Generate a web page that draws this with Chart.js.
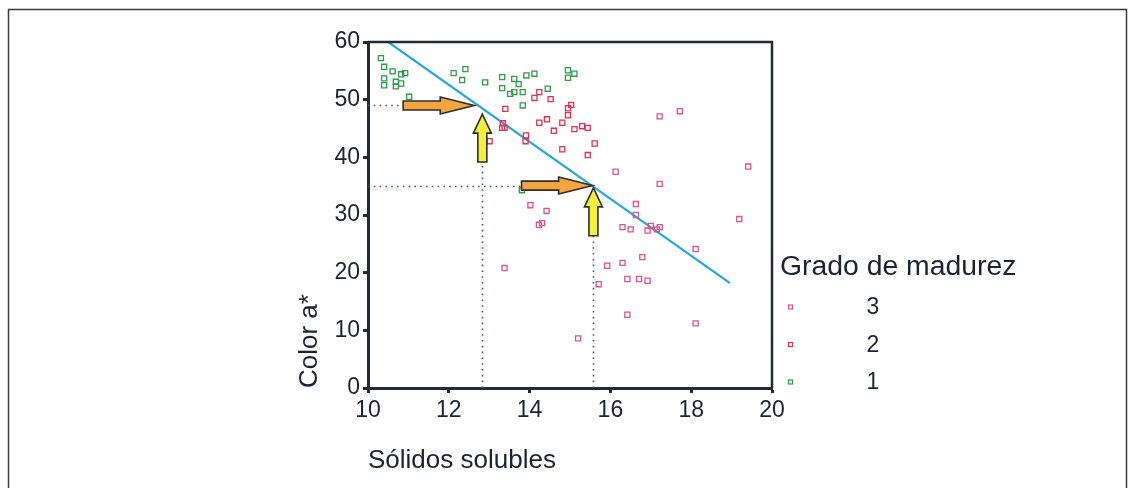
<!DOCTYPE html>
<html>
<head>
<meta charset="utf-8">
<script src="https://cdn.jsdelivr.net/npm/chart.js@4/dist/chart.umd.min.js"></script>
<style>
  html, body { margin: 0; padding: 0; background: #fff; }
  #wrap { width: 1134px; height: 488px; position: relative; }
</style>
</head>
<body>
<div id="wrap"><canvas id="chart" width="1134" height="488"></canvas></div>
<script>
// escalas
const xTicks = [10, 12, 14, 16, 18, 20];
const yTicks = [0, 10, 20, 30, 40, 50, 60];

// Grado de madurez 1 (verde)
const grado1X = [10.32, 10.40, 10.61, 10.40, 10.40, 10.69, 10.69, 10.82, 10.82, 10.92, 11.02, 12.12, 12.41, 12.33, 12.90,
  13.32, 13.32, 13.62, 13.73, 13.92, 14.12, 13.52, 13.62, 13.83, 14.45, 13.83, 14.95, 14.95, 15.11, 13.81];
const grado1Y = [57.2, 55.7, 54.9, 53.7, 52.5, 53.1, 52.3, 52.8, 54.4, 54.6, 50.5, 54.6, 55.3, 53.4, 53.0,
  53.9, 52.0, 53.6, 52.7, 54.2, 54.5, 51.0, 51.3, 51.3, 51.9, 49.0, 55.1, 53.8, 54.5, 34.3];

// Grado de madurez 2
const grado2X = [14.24, 14.12, 14.52, 13.40, 14.95, 15.03, 14.95, 14.43, 14.24, 14.81, 14.60, 15.11, 15.30, 15.44,
  13.34, 13.32, 13.38, 13.91, 13.90, 13.01, 15.61, 14.81, 15.44];
const grado2Y = [51.3, 50.3, 50.1, 48.4, 48.5, 49.1, 47.3, 46.6, 46.0, 46.0, 44.6, 44.9, 45.4, 45.1,
  45.9, 45.1, 45.1, 43.8, 42.8, 42.8, 42.4, 41.4, 40.4];

// Grado de madurez 3
const grado3X = [17.22, 17.72, 16.13, 17.22, 19.41, 14.02, 14.42, 14.23, 14.31, 13.38, 16.63, 16.63, 16.30, 16.50,
  16.92, 17.00, 17.15, 17.22, 19.19, 18.11, 15.92, 16.30, 16.79, 15.71, 16.42, 16.71, 16.92, 16.42, 18.11, 15.20];
const grado3Y = [47.1, 48.0, 37.5, 35.4, 38.4, 31.7, 30.7, 28.3, 28.6, 20.8, 31.9, 30.0, 27.9, 27.5,
  27.3, 28.1, 27.5, 27.9, 29.3, 24.1, 21.2, 21.7, 22.7, 18.0, 18.9, 18.9, 18.6, 12.7, 11.2, 8.6];

// recta de ajuste (extremos leidos)
const rectaX = [10.5, 18.96];
const rectaY = [60, 18.2];

// lecturas: punteadas y flechas (en unidades de los datos)
const guiaX = [12.83, 15.58];
const guiaY = [49, 35.1];
const flechasH = [[10.87, 12.63, 49], [13.80, 15.56, 35.1]];   // [x desde, x hasta, y]
const flechasV = [[12.83, 39.2, 47.5], [15.58, 26.4, 34.7]];   // [x, y desde, y hasta]

const colorTexto = '#1a2234';
const colorEje = '#222a36';

const pts = (xs, ys) => xs.map((x, i) => ({ x: x, y: ys[i] }));

function flecha(ctx, x0, y0, x1, y1, shaftW, headW, headL, fill) {
  const dx = x1 - x0, dy = y1 - y0;
  const len = Math.hypot(dx, dy);
  const ux = dx / len, uy = dy / len;
  const nx = -uy, ny = ux;
  const bx = x1 - ux * headL, by = y1 - uy * headL;
  ctx.beginPath();
  ctx.moveTo(x0 + nx * shaftW / 2, y0 + ny * shaftW / 2);
  ctx.lineTo(bx + nx * shaftW / 2, by + ny * shaftW / 2);
  ctx.lineTo(bx + nx * headW / 2, by + ny * headW / 2);
  ctx.lineTo(x1, y1);
  ctx.lineTo(bx - nx * headW / 2, by - ny * headW / 2);
  ctx.lineTo(bx - nx * shaftW / 2, by - ny * shaftW / 2);
  ctx.lineTo(x0 - nx * shaftW / 2, y0 - ny * shaftW / 2);
  ctx.closePath();
  ctx.fillStyle = fill;
  ctx.fill();
  ctx.lineWidth = 1.6;
  ctx.strokeStyle = '#2e2e2e';
  ctx.stroke();
}

const extras = {
  id: 'extras',
  beforeDraw(chart) {
    const ctx = chart.ctx;
    ctx.save();
    // marco de la figura
    ctx.strokeStyle = '#3a3a3a';
    ctx.lineWidth = 1.5;
    ctx.beginPath();
    ctx.moveTo(8.5, 488);
    ctx.lineTo(8.5, 9.5);
    ctx.lineTo(1126.5, 9.5);
    ctx.lineTo(1126.5, 488);
    ctx.stroke();
    ctx.restore();
  },
  beforeDatasetsDraw(chart) {
    const { ctx, scales: { x, y } } = chart;
    ctx.save();
    ctx.strokeStyle = '#4a5566';
    ctx.lineWidth = 1.6;
    ctx.setLineDash([1.6, 4.2]);
    // horizontales
    guiaY.forEach((v, i) => {
      const py = Math.round(y.getPixelForValue(v)) + 0.5;
      ctx.beginPath();
      ctx.moveTo(x.getPixelForValue(10), py);
      ctx.lineTo(x.getPixelForValue(flechasH[i][0]), py);
      ctx.stroke();
    });
    // verticales
    guiaX.forEach((v, i) => {
      const px = Math.round(x.getPixelForValue(v)) + 0.5;
      ctx.beginPath();
      ctx.moveTo(px, y.getPixelForValue(0));
      ctx.lineTo(px, y.getPixelForValue(i === 0 ? flechasV[i][1] : guiaY[i]));
      ctx.stroke();
    });
    ctx.restore();
  },
  afterDatasetsDraw(chart) {
    const { ctx, scales: { x, y }, chartArea: a } = chart;
    ctx.save();
    flechasH.forEach(f => {
      flecha(ctx, x.getPixelForValue(f[0]), y.getPixelForValue(f[2]),
        x.getPixelForValue(f[1]), y.getPixelForValue(f[2]), 9, 17, 34, '#f3a540');
    });
    flechasV.forEach(f => {
      flecha(ctx, x.getPixelForValue(f[0]), y.getPixelForValue(f[1]),
        x.getPixelForValue(f[0]), y.getPixelForValue(f[2]), 9, 18, 19, '#f6f03a');
    });
    // caja del grafico (arriba y derecha)
    ctx.strokeStyle = colorEje;
    ctx.lineWidth = 2.5;
    ctx.beginPath();
    ctx.moveTo(a.left, a.top);
    ctx.lineTo(a.right, a.top);
    ctx.lineTo(a.right, a.bottom);
    ctx.stroke();

    // leyenda
    ctx.fillStyle = colorTexto;
    ctx.font = '27px "Liberation Sans", Arial, sans-serif';
    ctx.textBaseline = 'middle';
    ctx.textAlign = 'left';
    ctx.save();
    ctx.translate(780, 268);
    ctx.scale(1.05, 1);
    ctx.fillText('Grado de madurez', 0, 0);
    ctx.restore();
    [0, 1, 2].forEach((di, k) => {
      const ds = chart.data.datasets[di];
      const cy = 307 + k * 37.5;
      ctx.strokeStyle = ds.borderColor;
      ctx.lineWidth = 1.2;
      ctx.strokeRect(788.5, cy - 2, 4, 4);
      ctx.fillStyle = colorTexto;
      ctx.font = '23px "Liberation Sans", Arial, sans-serif';
      ctx.textAlign = 'center';
      ctx.fillText(ds.label, 873, cy + 1);
    });
    ctx.restore();
  }
};

const punto = (color) => ({
  type: 'scatter',
  pointStyle: 'rect',
  pointRadius: 3.6,
  pointBorderWidth: 1.3,
  borderColor: color,
  backgroundColor: 'rgba(255,255,255,0)',
  pointBackgroundColor: 'rgba(255,255,255,0)',
});

new Chart(document.getElementById('chart'), {
  type: 'scatter',
  data: {
    datasets: [
      Object.assign({ label: '3', data: pts(grado3X, grado3Y) }, punto('#e2508a')),
      Object.assign({ label: '2', data: pts(grado2X, grado2Y) }, punto('#e2304e')),
      Object.assign({ label: '1', data: pts(grado1X, grado1Y) }, punto('#2f9c48')),
      {
        type: 'line',
        label: 'recta',
        data: pts(rectaX, rectaY),
        borderColor: '#24a8de',
        borderWidth: 2.2,
        pointRadius: 0,
        fill: false,
        tension: 0
      }
    ]
  },
  options: {
    responsive: false,
    animation: false,
    events: [],
    layout: { padding: { left: 294, top: 42, right: 362, bottom: 12 } },
    plugins: {
      legend: { display: false },
      tooltip: { enabled: false }
    },
    scales: {
      x: {
        type: 'linear',
        min: 10, max: 20,
        afterBuildTicks: s => { s.ticks = xTicks.map(v => ({ value: v })); },
        afterFit: s => { s.height = 88; },
        grid: { drawOnChartArea: false, drawTicks: true, tickLength: 5, tickWidth: 3, tickColor: colorEje },
        border: { display: true, color: colorEje, width: 3 },
        ticks: { color: colorTexto, padding: 4, font: { family: '"Liberation Sans", Arial, sans-serif', size: 23 } },
        title: {
          display: true, text: 'Sólidos solubles', align: 'start', color: colorTexto,
          padding: 0, font: { family: '"Liberation Sans", Arial, sans-serif', size: 26 }
        }
      },
      y: {
        type: 'linear',
        min: 0, max: 60,
        afterBuildTicks: s => { s.ticks = yTicks.map(v => ({ value: v })); },
        afterFit: s => { s.width = 74; },
        grid: { drawOnChartArea: false, drawTicks: true, tickLength: 5, tickWidth: 3, tickColor: colorEje },
        border: { display: true, color: colorEje, width: 3 },
        ticks: { color: colorTexto, padding: 3, font: { family: '"Liberation Sans", Arial, sans-serif', size: 23 } },
        title: {
          display: true, text: 'Color a*', align: 'start', color: colorTexto,
          padding: 0, font: { family: '"Liberation Sans", Arial, sans-serif', size: 26 }
        }
      }
    }
  },
  plugins: [extras]
});
</script>
</body>
</html>
